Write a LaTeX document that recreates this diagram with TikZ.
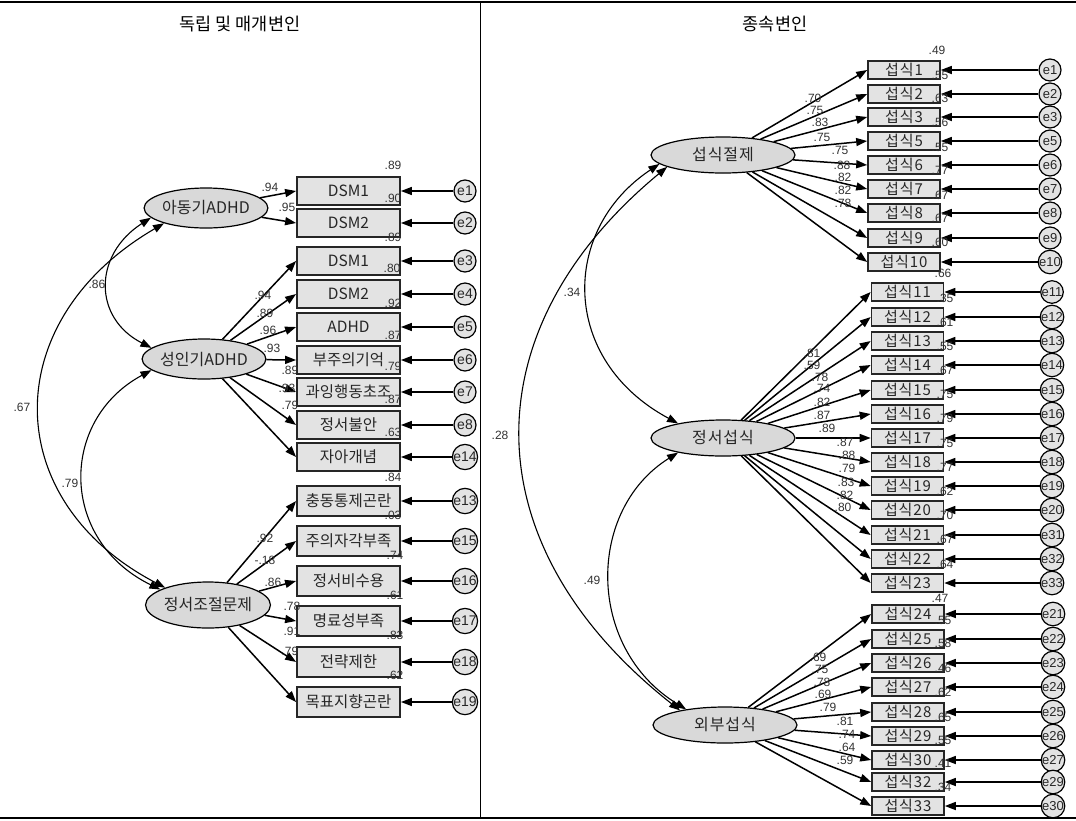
\documentclass[tikz,border=0pt]{standalone}
\usepackage{fontspec}
\setmainfont{Liberation Sans}
\newfontfamily\kr{Noto Sans CJK KR}
\newfontfamily\krs{Noto Sans CJK KR}[LetterSpace=6]
\usetikzlibrary{arrows.meta,shapes.geometric}
\tikzset{
 lat/.style={ellipse, draw=black, line width=1.2pt, fill=gray!30, inner sep=0pt, text=black!85, font=\kr\fontsize{16}{16}\selectfont},
 latr/.style={lat, font=\krs\fontsize{16}{16}\selectfont},
 obl/.style={rectangle, draw=black!85, line width=1.8pt, fill=gray!22, minimum width=103pt, inner sep=0pt, text=black!85, font=\kr\fontsize{15.5}{15.5}\selectfont},
 obr/.style={rectangle, draw=black!85, line width=1.6pt, fill=gray!22, minimum width=72pt, minimum height=18pt, inner sep=0pt, text=black!85, font=\krs\fontsize{15}{15}\selectfont},
 err/.style={circle, draw=black, line width=1.2pt, fill=gray!22, minimum size=22pt, inner sep=0pt, text=black!85, font=\fontsize{14}{14}\selectfont},
 errs/.style={err, font=\fontsize{13}{13}\selectfont},
 num/.style={inner sep=0pt, font=\fontsize{12}{12}\selectfont, text=black!80},
 arr/.style={-{Triangle[length=11pt,width=8pt]}, line width=1.5pt},
 cor/.style={{Triangle[length=11pt,width=8pt]}-{Triangle[length=11pt,width=8pt]}, line width=1.1pt},
 hdr/.style={inner sep=0pt, font=\kr\fontsize{17.5}{17.5}\selectfont}
}
\begin{document}
\begin{tikzpicture}[x=1pt,y=-1pt]
\useasboundingbox[fill=white] (0,0) rectangle (1076,820);
% frame
\draw[line width=2pt] (0,2) -- (1076,2);
\draw[line width=2pt] (0,818) -- (1076,818);
\draw[line width=0.8pt] (480,2) -- (480,818);
\node[hdr] (h1) at (240,24) {독립 및 매개변인};
\node[hdr] (h2) at (775,24) {종속변인};

% ===== left panel =====
\node[lat, minimum width=115pt, minimum height=40pt] (A) at (206,208) {아동기ADHD};
\node[lat, minimum width=115pt, minimum height=40pt] (B) at (204,359) {성인기ADHD};
\node[lat, minimum width=113pt, minimum height=46pt] (C) at (208,605) {정서조절문제};

\foreach \y/\t/\e/\h [count=\i] in {191/DSM1/e1/28, 223/DSM2/e2/28, 261/DSM1/e3/28, 294/DSM2/e4/28, 327/ADHD/e5/28, 360/부주의기억/e6/28, 392/과잉행동초조/e7/28, 425/정서불안/e8/28, 457/자아개념/e14/28, 501/충동통제곤란/e13/30, 541/주의자각부족/e15/30, 581/정서비수용/e16/30, 621/명료성부족/e17/30, 662/전략제한/e18/30, 702/목표지향곤란/e19/30}{
  \node[obl, minimum height=\h pt] (L\i) at (348.5,\y) {\t};
  \node[err] (LE\i) at (465,\y) {\e};
  \draw[arr] (LE\i) -- (L\i.east);
}
\foreach \i in {1,2} \draw[arr] (A) -- (L\i.west);
\foreach \i in {3,...,9} \draw[arr] (B) -- (L\i.west);
\foreach \i in {10,...,15} \draw[arr] (C) -- (L\i.west);

% R squared (left)
\foreach \x/\y/\v [count=\i] in {393/165/.89, 393/198/.90, 393/237/.89, 392/268/.80, 393/303/.92, 393/335/.87, 393/366/.79, 393/399/.87, 393/432/.63, 393/477/.84, 393/515/.03, 395/555/.74, 395/595/.61, 395/635/.83, 395/675/.62}
  \node[num] (lr\i) at (\x,\y) {\v};
% loadings (left)
\foreach \x/\y/\v [count=\i] in {270/187/.94, 287/207/.95, 263/295/.94, 265/313/.89, 268/330/.96, 272/348/.93, 290/370/.89, 287/388/.93, 290/405/.79, 265/538/.92, 265/560/-.18, 273/582/.86, 292/606/.78, 292/631/.91, 290/651/.79}
  \node[num] (ll\i) at (\x,\y) {\v};

% correlations (left)
\draw[cor] (A.190) .. controls (93,255) and (93,318) .. (B.168);
\draw[cor] (A.200) .. controls (-2,320) and (-2,500) .. (C.158);
\draw[cor] (B.192) .. controls (59,420) and (59,540) .. (C.162);
\node[num] (c1) at (97,284) {.86};
\node[num] (c2) at (22,407) {.67};
\node[num] (c3) at (70,483) {.79};

% ===== right panel =====
\node[latr, minimum width=144pt, minimum height=36pt] (R1) at (723,155) {섭식절제};
\node[latr, minimum width=144pt, minimum height=36pt] (R2) at (723,438) {정서섭식};
\node[latr, minimum width=144pt, minimum height=36pt] (R3) at (725,725) {외부섭식};

\foreach \y/\t/\e [count=\i] in {70/섭식1/e1, 94/섭식2/e2, 117/섭식3/e3, 141/섭식5/e5, 165/섭식6/e6, 189/섭식7/e7, 213/섭식8/e8, 238/섭식9/e9, 262/섭식10/e10}{
  \node[obr] (P\i) at (904,\y) {\t};
  \node[errs] (PE\i) at (1050,\y) {\e};
  \draw[arr] (PE\i) -- (P\i.east);
  \draw[arr] (R1) -- (P\i.west);
}
\foreach \y/\t/\e [count=\i] in {292/섭식11/e11, 317/섭식12/e12, 341/섭식13/e13, 365/섭식14/e14, 390/섭식15/e15, 414/섭식16/e16, 438/섭식17/e17, 462/섭식18/e18, 486/섭식19/e19, 510/섭식20/e20, 535/섭식21/e31, 559/섭식22/e32, 583/섭식23/e33}{
  \node[obr] (Q\i) at (907.5,\y) {\t};
  \node[errs] (QE\i) at (1052,\y) {\e};
  \draw[arr] (QE\i) -- (Q\i.east);
  \draw[arr] (R2) -- (Q\i.west);
}
\foreach \y/\t/\e [count=\i] in {614/섭식24/e21, 639/섭식25/e22, 663/섭식26/e23, 687/섭식27/e24, 712/섭식28/e25, 736/섭식29/e26, 760/섭식30/e27, 782/섭식32/e29, 806/섭식33/e30}{
  \node[obr] (T\i) at (908,\y) {\t};
  \node[errs] (TE\i) at (1053,\y) {\e};
  \draw[arr] (TE\i) -- (T\i.east);
  \draw[arr] (R3) -- (T\i.west);
}

% R squared (right)
\foreach \x/\y/\v [count=\i] in {937/50/.49, 940/75/.55, 940/98/.63, 940/122/.56, 940/147/.55, 940/170/.77, 940/195/.67, 940/218/.67, 940/242/.60, 943/273/.66,
  945/298/.35, 945/322/.61, 945/346/.55, 945/370/.67, 945/394/.75, 945/418/.79, 945/443/.75, 945/467/.77, 945/491/.62, 945/515/.70, 945/539/.67, 945/564/.64, 940/598/.47,
  943/620/.55, 943/643/.58, 943/668/.46, 943/692/.62, 943/717/.65, 943/740/.55, 943/763/.41, 943/787/.34}
  \node[num] (rr\i) at (\x,\y) {\v};
% loadings (right)
\foreach \x/\y/\v [count=\i] in {813/98/.70, 815/110/.75, 820/122/.83, 822/137/.75, 840/150/.75, 842/165/.88, 843/177/.82, 843/190/.82, 843/203/.78,
  812/353/.81, 812/365/.59, 820/377/.78, 822/388/.74, 822/402/.82, 822/415/.87, 827/428/.89, 845/442/.87, 847/455/.88, 847/468/.79, 846/482/.83, 845/495/.82, 843/507/.80,
  818/657/.69, 820/669/.75, 822/682/.78, 823/694/.69, 828/707/.79, 845/721/.81, 847/734/.74, 847/747/.64, 845/760/.59}
  \node[num] (rl\i) at (\x,\y) {\v};

% correlations (right)
\draw[cor] (R1.188) .. controls (560,230) and (560,360) .. (R2.162);
\draw[cor] (R1.192) .. controls (470,330) and (470,545) .. (R3.162);
\draw[cor] (R2.198) .. controls (586,510) and (586,648) .. (R3.158);
\node[num] (c4) at (572,292) {.34};
\node[num] (c5) at (500,435) {.28};
\node[num] (c6) at (592,580) {.49};
\end{tikzpicture}
\end{document}
